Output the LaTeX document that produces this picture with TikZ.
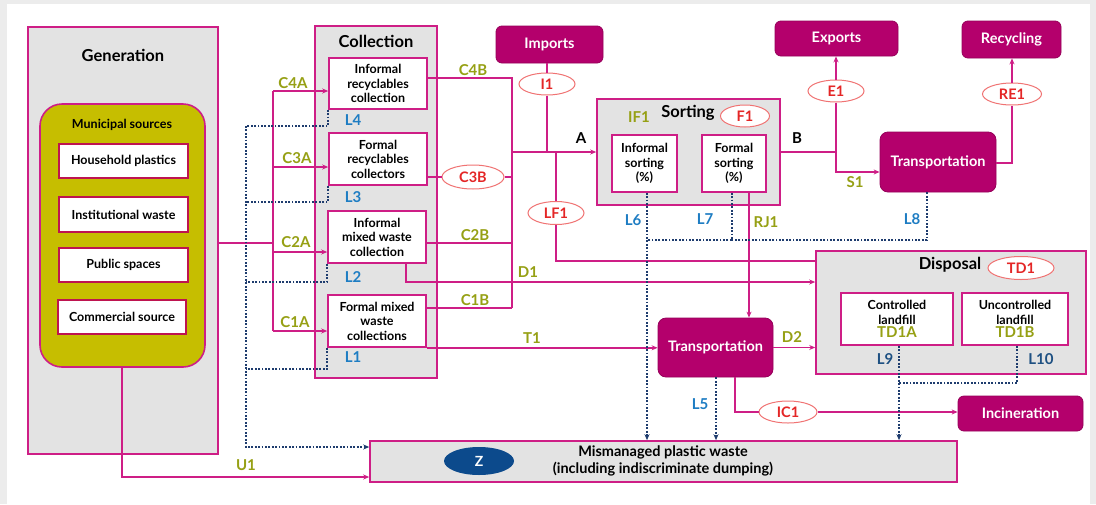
\documentclass[tikz,border=0pt]{standalone}
\usepackage{fontspec}
\setmainfont{Lato}
\usetikzlibrary{fit,arrows.meta,shapes.geometric}

\definecolor{pk}{RGB}{206,30,134}
\definecolor{pkfill}{RGB}{180,0,108}
\definecolor{pkedge}{RGB}{150,0,90}
\definecolor{crim}{RGB}{190,20,80}
\definecolor{grayfill}{RGB}{227,227,227}
\definecolor{olivefill}{RGB}{198,190,0}
\definecolor{olivetxt}{RGB}{150,160,20}
\definecolor{bluetxt}{RGB}{30,125,195}
\definecolor{navytxt}{RGB}{30,80,130}
\definecolor{dotcol}{RGB}{30,60,110}
\definecolor{redtxt}{RGB}{228,38,38}
\definecolor{ellline}{RGB}{240,115,115}
\definecolor{zblue}{RGB}{12,74,140}
\definecolor{bgout}{RGB}{236,236,236}

\tikzset{
  graybox/.style={draw=pk, line width=1.6, fill=grayfill, inner sep=0},
  wbox/.style={draw=pk, line width=1.6, fill=white, inner sep=0},
  wtxt/.style={align=center, inner sep=0, font=\bfseries\fontsize{12.5}{14.5}\selectfont},
  srcbox/.style={draw=crim, line width=2, fill=white, inner sep=0},
  mbox/.style={draw=pkedge, line width=0.8, fill=pkfill, rounded corners=6, inner sep=0},
  mtxt/.style={text=white, inner sep=0, font=\bfseries\fontsize{14.5}{16}\selectfont},
  oval/.style={ellipse, draw=ellline, line width=1, fill=white, text=redtxt,
    font=\bfseries\fontsize{14.5}{16}\selectfont, minimum width=56, minimum height=22, inner sep=0},
  flow/.style={draw=pk, line width=1.5},
  arr/.style={-{Stealth[length=6,width=5]}},
  dotline/.style={draw=dotcol, line width=2.2, dash pattern=on 1.8pt off 1.6pt},
  darr/.style={-{Stealth[length=6,width=5]}},
  title/.style={font=\bfseries\fontsize{16.5}{18}\selectfont},
  olab/.style={text=olivetxt, font=\bfseries\fontsize{15}{17}\selectfont},
  blab/.style={text=bluetxt, font=\bfseries\fontsize{15}{17}\selectfont},
  nlab/.style={text=navytxt, font=\bfseries\fontsize{15}{17}\selectfont},
  klab/.style={text=black, font=\bfseries\fontsize{15}{17}\selectfont},
}

\begin{document}
\begin{tikzpicture}[x=1pt,y=-1pt]
\useasboundingbox (0,0) rectangle (1096,504);
\fill[bgout] (0,0) rectangle (1096,504);
\fill[white] (7,4) rectangle (1090,504);

% ---------- Generation ----------
\node[graybox, fit={(28,27)(218,454)}] (gen) {};
\node[title] (gent) at (123,55) {Generation};
\node[draw=pk, line width=1.6, fill=olivefill, rounded corners=22, inner sep=0,
      fit={(40,104)(205,367)}] (muni) {};
\node[wtxt] (munit) at (122,125) {Municipal sources};
\node[srcbox, fit={(59,144)(188,178)}, label={[wtxt]center:Household plastics}] (hh) {};
\node[srcbox, fit={(59,197)(188,232)}, label={[wtxt]center:Institutional waste}] (inst) {};
\node[srcbox, fit={(59,248)(188,282)}, label={[wtxt]center:Public spaces}] (pub) {};
\node[srcbox, fit={(58,300)(186,334)}, label={[wtxt]center:Commercial source}] (com) {};

% ---------- Collection ----------
\node[graybox, fit={(315,26)(437,378)}] (coll) {};
\node[title] (collt) at (376,41) {Collection};
\node[wbox, fit={(329,58)(427,109)}, label={[wtxt]center:{Informal\\recyclables\\collection}}] (irc) {};
\node[wbox, fit={(329,133)(427,185)}, label={[wtxt]center:{Formal\\recyclables\\collectors}}] (frc) {};
\node[wbox, fit={(328,211)(426,263)}, label={[wtxt]center:{Informal\\mixed waste\\collection}}] (imw) {};
\node[wbox, fit={(328,295)(426,347)}, label={[wtxt]center:{Formal mixed\\waste\\collections}}] (fmw) {};

% ---------- Sorting ----------
\node[graybox, fit={(597,99)(780,205)}] (sort) {};
\node[title] (sortt) at (688,113) {Sorting};
\node[olab] (if1) at (639,117) {IF1};
\node[oval, minimum width=49] (f1) at (745,116) {F1};
\node[wbox, fit={(612,135)(677,192)}, label={[wtxt]center:{Informal\\sorting\\(\%)}}] (isort) {};
\node[wbox, fit={(702,135)(766,192)}, label={[wtxt]center:{Formal\\sorting\\(\%)}}] (fsort) {};

% ---------- Disposal ----------
\node[graybox, fit={(816,251)(1086,374)}] (disp) {};
\node[title] (dispt) at (950,265) {Disposal};
\node[oval, minimum width=66, minimum height=23] (td1) at (1021,268) {TD1};
\node[wbox, fit={(841,293)(953,345)},
  label={[wtxt]center:{Controlled\\landfill\\[-1pt]{\color{olivetxt}\fontsize{15}{16}\selectfont TD1A}}}] (ctl) {};
\node[wbox, fit={(962,293)(1068,345)},
  label={[wtxt]center:{Uncontrolled\\landfill\\[-1pt]{\color{olivetxt}\fontsize{15}{16}\selectfont TD1B}}}] (unc) {};

% ---------- Filled process boxes ----------
\node[mbox, fit={(496,26)(603,63)}, label={[mtxt]center:Imports}] (imp) {};
\node[mbox, fit={(775,21)(898,56)}, label={[mtxt]center:Exports}] (exp) {};
\node[mbox, fit={(962,21)(1061,58)}, label={[mtxt]center:Recycling}] (rec) {};
\node[mbox, rounded corners=8, fit={(880,132)(996,192)}, label={[mtxt]center:Transportation}] (tr1) {};
\node[mbox, rounded corners=8, fit={(658,318)(773,377)}, label={[mtxt]center:Transportation}] (tr2) {};
\node[mbox, fit={(958,396)(1083,431)}, label={[mtxt]center:Incineration}] (inc) {};

% ---------- Mismanaged waste ----------
\node[graybox, fit={(370,441)(957,482)}] (z) {};
\node[ellipse, fill=zblue, minimum width=70, minimum height=28, inner sep=0,
      text=white, font=\bfseries\fontsize{14}{16}\selectfont] (zl) at (479,461) {Z};
\node[align=center, inner sep=0, font=\bfseries\fontsize{14.5}{17.5}\selectfont] (zt) at (663,461)
  {Mismanaged plastic waste\\(including indiscriminate dumping)};

% ---------- Ovals on the flows ----------
\node[oval, minimum width=62, minimum height=24] (c3b) at (473,177) {C3B};
\node[oval] (i1) at (547,84) {I1};
\node[oval, minimum height=23] (lf1) at (556,213) {LF1};
\node[oval] (e1) at (836,91) {E1};
\node[oval, minimum width=59] (re1) at (1012,94) {RE1};
\node[oval, minimum width=58] (ic1) at (788,412) {IC1};

% ---------- Junction points ----------
\coordinate (bl4) at (273,91);
\coordinate (bl3) at (273,167);
\coordinate (bl2) at (273,252);
\coordinate (bl1) at (273,331);
\coordinate (bin) at (273,243);
\coordinate (br4) at (512,78);
\coordinate (br3) at (512,177);
\coordinate (br2) at (512,243);
\coordinate (br1) at (512,308);
\coordinate (ja) at (512,152);
\coordinate (ji) at (547,152);
\coordinate (jlf) at (556,152);
\coordinate (jlf2) at (556,261);
\coordinate (jd1) at (406,282);
\coordinate (jb) at (836,152);
\coordinate (js1) at (836,172);
\coordinate (jre) at (1012,163);
\coordinate (dv) at (246,126);
\coordinate (dz) at (246,447);
\coordinate (ds) at (647,240);
\coordinate (dd) at (899,383);

% ---------- Flows ----------
\begin{scope}[flow]
\draw (gen.east |- bin) -- (bin);
\draw (bl4) -- (bl1);
\draw[arr] (bl4) -- (irc.west |- bl4);
\draw[arr] (bl3) -- (frc.west |- bl3);
\draw[arr] (bl2) -- (imw.west |- bl2);
\draw[arr] (bl1) -- (fmw.west |- bl1);
% out of collection
\draw (irc.east |- br4) -- (br4) -- (br1);
\draw (frc.east |- br3) -- (c3b) -- (br3);
\draw (imw.east |- br2) -- (br2);
\draw (fmw.east |- br1) -- (br1);
\draw[arr] (imw.south -| jd1) -- (jd1) -- (disp.west |- jd1);
\draw[arr] (fmw.south east) -- (tr2.west |- fmw.south east);
% to sorting
\draw[arr] (ja) -- (sort.west |- ja);
\draw (imp.south -| i1) -- (i1) -- (ji);
\draw (jlf) -- (lf1) -- (jlf2) -- (disp.west |- jlf2);
% out of sorting
\draw (sort.east |- jb) -- (jb);
\draw[arr] (e1) -- (exp.south -| e1);
\draw[arr] (e1) -- (js1) -- (tr1.west |- js1);
\draw (tr1.east |- jre) -- (jre) -- (re1);
\draw[arr] (re1) -- (rec.south -| re1);
\draw[arr] (fsort.south -| 749,0) -- (tr2.north -| 749,0);
% transportation to disposal / incineration
\draw[arr] (tr2.east) -- (disp.west |- tr2.east);
\draw (tr2.south -| 735,0) |- (ic1);
\draw[arr] (ic1) -- (inc.west |- ic1);
% uncollected
\draw[arr] (muni.south -| 122,0) |- (z.west |- 0,477);
\end{scope}

% ---------- Losses (dotted) ----------
\begin{scope}[dotline]
\draw (irc.south west) |- (dv);
\draw (frc.south west) |- (246,202);
\draw (imw.south west) |- (246,282);
\draw (fmw.south west) |- (246,369);
\draw[darr] (dv) -- (dz) -- (z.west |- dz);
\draw[darr] (isort.south -| ds) -- (z.north -| ds);
\draw (fsort.south -| 732,0) |- (ds);
\draw (tr1.south -| 927,0) |- (732,240);
\draw[darr] (tr2.south -| 716,0) -- (z.north -| 716,0);
\draw[darr] (ctl.south -| dd) -- (z.north -| dd);
\draw (unc.south -| 1017,0) |- (dd);
\end{scope}

% ---------- Flow labels ----------
\node[olab] at (293,83) {C4A};
\node[olab] at (297,158) {C3A};
\node[olab] at (296,242) {C2A};
\node[olab] at (295,322) {C1A};
\node[blab] at (353,120) {L4};
\node[blab] at (353,197) {L3};
\node[blab] at (353,277) {L2};
\node[blab] at (353,357) {L1};
\node[olab] at (473,70) {C4B};
\node[olab] at (475,235) {C2B};
\node[olab] at (475,300) {C1B};
\node[olab] at (528,272) {D1};
\node[olab] at (532,338) {T1};
\node[klab] at (581,138) {A};
\node[klab] at (797,138) {B};
\node[olab] at (855,182) {S1};
\node[olab] at (766,222) {RJ1};
\node[blab] at (633,220) {L6};
\node[blab] at (705,219) {L7};
\node[blab] at (912,219) {L8};
\node[olab] at (792,337) {D2};
\node[blab] at (700,404) {L5};
\node[nlab] at (885,359) {L9};
\node[nlab] at (1041,359) {L10};
\node[olab] at (246,465) {U1};
\end{tikzpicture}
\end{document}
